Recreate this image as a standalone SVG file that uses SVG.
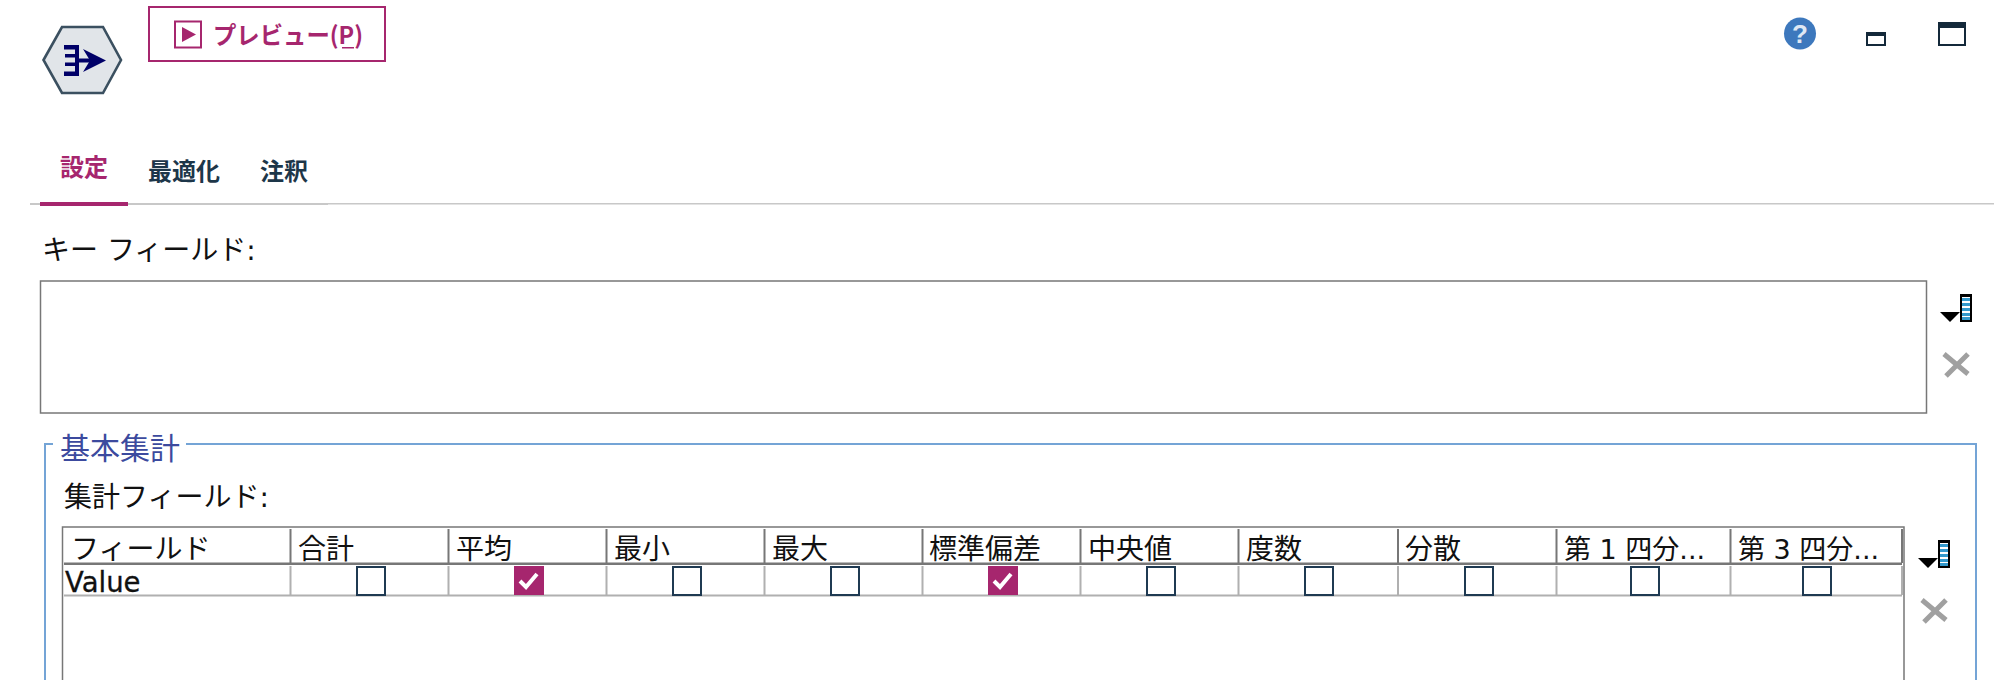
<svg xmlns="http://www.w3.org/2000/svg" xmlns:xlink="http://www.w3.org/1999/xlink" width="2006" height="680" viewBox="0 0 2006 680">
<style>
text{font-family:"Noto Sans CJK JP","DejaVu Sans",sans-serif;font-size:28px;fill:#111}
.v{font-family:"DejaVu Sans","Noto Sans CJK JP",sans-serif;font-size:27.500px;stroke:#111;stroke-width:.3}
.s{font-family:"DejaVu Sans","Noto Sans CJK JP",sans-serif}
.q{font-family:"DejaVu Sans","Noto Sans CJK JP",sans-serif;font-size:27px}
.tab{font-size:24px;font-weight:700;fill:#1d3649}
.hs{fill:#777}
.rs{fill:#b0b0b0}
.cb{fill:#fff;stroke:#1f3a52;stroke-width:2}
.ck{fill:#a6266e}
.tk{fill:none;stroke:#fff;stroke-width:4}
</style>
<defs>
<g id="colicon">
<path d="M0 18H20L10 28Z" fill="#000"/>
<rect x="20" y="0" width="12" height="28" fill="#000"/>
<rect x="22" y="3" width="8" height="23" fill="#fff"/>
<path d="M22 4h8v3h-8zM22 9h8v3h-8zM22 14h8v3h-8zM22 19h8v3h-8zM22 23h8v3h-8z" fill="#3399cc"/>
</g>
<path id="xicon" d="M2 2L26 22M26 2L4 24" fill="none" stroke="#a0a0a0" stroke-width="5"/>
</defs>
<rect width="2006" height="680" fill="#fff"/>
<g id="node-icon">
<path d="M43.500 60L62 27H103L121 60L103 93H62Z" fill="#e1e5e9" stroke="#3b5060" stroke-width="2.600"/>
<path d="M64 45H77V49.500H64ZM65 54H77V57.500H65ZM65 62.500H77V66H65ZM64 71.500H77V76H64ZM75 45H79V76H75ZM79 58.500H92V62.500H79Z" fill="#000068"/>
<path d="M83 49L106 60.500L83 72L90 60.500Z" fill="#000068"/>
</g>
<g id="node-preview">
<rect x="149" y="7" width="236" height="54" fill="#fff" stroke="#a6266e" stroke-width="2"/>
<rect x="175" y="21.500" width="26" height="26" fill="none" stroke="#a6266e" stroke-width="2"/>
<path d="M182 27V42L196 34.500Z" fill="#a6266e"/>
<text x="213" y="44" style="font-size:24px;font-weight:700;fill:#a6266e" textLength="150" lengthAdjust="spacingAndGlyphs">プレビュー(P)</text>
<rect x="342" y="47" width="12" height="1.500" fill="#a6266e"/>
</g>
<g id="node-window-buttons">
<circle cx="1800" cy="33.500" r="16" fill="#3d78bd"/>
<text x="1800" y="43" text-anchor="middle" style="font-size:26px;font-weight:700;fill:#dfe8f4;font-family:'Liberation Sans',sans-serif">?</text>
<rect x="1867" y="33.500" width="18" height="11.500" fill="none" stroke="#14293a" stroke-width="2"/>
<rect x="1866" y="32" width="20" height="4" fill="#14293a"/>
<rect x="1939" y="23" width="26" height="22" fill="none" stroke="#14293a" stroke-width="2"/>
<rect x="1938" y="22" width="28" height="6" fill="#14293a"/>
</g>
<g id="node-tabs">
<rect x="30" y="203" width="298" height="2" fill="#c8c8c8"/>
<rect x="328" y="203" width="1666" height="1.500" fill="#c8c8c8"/>
<rect x="40" y="202" width="88" height="4" fill="#a6266e"/>
<text class="tab" x="60" y="176" style="fill:#a6266e">設定</text>
<text class="tab" x="148" y="180">最適化</text>
<text class="tab" x="260" y="180">注釈</text>
</g>
<g id="node-key-fields">
<text class="s" x="42" y="260">キー フィールド:</text>
<rect x="40.500" y="281" width="1886" height="132" fill="#fff" stroke="#777" stroke-width="1.500"/>
<use xlink:href="#colicon" href="#colicon" x="1940" y="294"/>
<use xlink:href="#xicon" href="#xicon" x="1942" y="352"/>
</g>
<g id="node-group">
<path d="M53 444H45V680M186 444H1976V680" fill="none" stroke="#74a4d6" stroke-width="2"/>
<text x="60" y="459" style="font-size:30px;fill:#3c4a9e">基本集計</text>
<text class="s" x="64" y="507">集計フィールド:</text>
</g>
<g id="node-table">
<path d="M62.500 680V527H1904V680" fill="none" stroke="#777" stroke-width="1.500"/>
<rect class="hs" x="64" y="562.500" width="1838" height="2.500"/>
<rect class="rs" x="64" y="594.500" width="1838" height="2"/>
<path class="hs" d="M289.500 529h2v34h-2zM447.500 529h2v34h-2zM605.500 529h2v34h-2zM763.500 529h2v34h-2zM921.500 529h2v34h-2zM1079.500 529h2v34h-2zM1237.500 529h2v34h-2zM1397 529h2v34h-2zM1555.500 529h2v34h-2zM1729.500 529h2v34h-2zM1901 529h2v34h-2z"/>
<path class="rs" d="M289.500 566h2v29h-2zM447.500 566h2v29h-2zM605.500 566h2v29h-2zM763.500 566h2v29h-2zM921.500 566h2v29h-2zM1079.500 566h2v29h-2zM1237.500 566h2v29h-2zM1397 566h2v29h-2zM1555.500 566h2v29h-2zM1729.500 566h2v29h-2zM1901 566h2v29h-2z"/>
<text x="71" y="559">フィールド</text>
<text x="298" y="559">合計</text>
<text x="456" y="559">平均</text>
<text x="614" y="559">最小</text>
<text x="772" y="559">最大</text>
<text x="929" y="559">標準偏差</text>
<text x="1088" y="559">中央値</text>
<text x="1246" y="559">度数</text>
<text x="1405" y="559">分散</text>
<text class="q" x="1564" y="559">第 1 四分...</text>
<text class="q" x="1738" y="559">第 3 四分...</text>
<text class="v" x="65" y="592">Value</text>
<rect class="cb" x="357" y="567" width="28" height="28"/>
<rect class="ck" x="514" y="566" width="30" height="29"/>
<path class="tk" d="M520 581L526 587L537 574"/>
<rect class="cb" x="673" y="567" width="28" height="28"/>
<rect class="cb" x="831" y="567" width="28" height="28"/>
<rect class="ck" x="988" y="566" width="30" height="29"/>
<path class="tk" d="M994 581L1000 587L1011 574"/>
<rect class="cb" x="1147" y="567" width="28" height="28"/>
<rect class="cb" x="1305" y="567" width="28" height="28"/>
<rect class="cb" x="1465" y="567" width="28" height="28"/>
<rect class="cb" x="1631" y="567" width="28" height="28"/>
<rect class="cb" x="1803" y="567" width="28" height="28"/>
<use xlink:href="#colicon" href="#colicon" x="1918" y="540"/>
<use xlink:href="#xicon" href="#xicon" x="1920" y="598"/>
</g>
</svg>
